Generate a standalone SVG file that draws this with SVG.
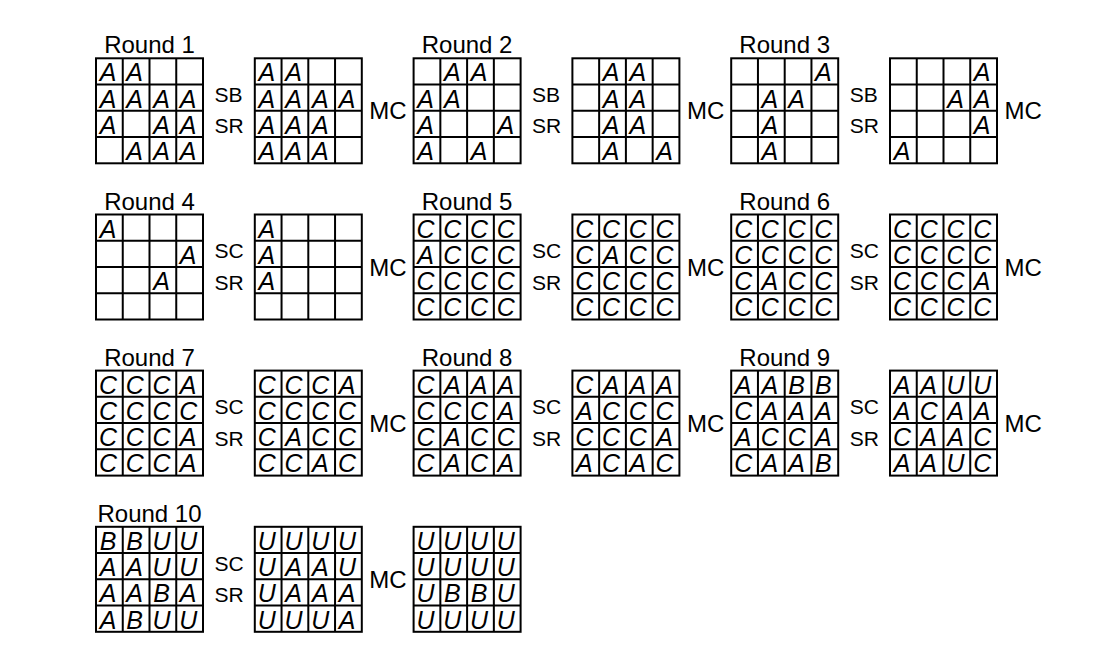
<svg xmlns="http://www.w3.org/2000/svg" xmlns:xlink="http://www.w3.org/1999/xlink" width="1106" height="669" viewBox="0 0 1106 669">
<style>
.bg{fill:#fff}
.gr rect{fill:#fff;stroke:#000;stroke-width:2}
.gr path{fill:none;stroke:#000;stroke-width:2}
text{font-family:"Liberation Sans",Arial,Helvetica,sans-serif;fill:#000}
.a{font-style:italic;font-size:25px;text-anchor:middle}
.t{font-size:24px;text-anchor:middle}
.op{font-size:21px}
.mc{font-size:24px}
</style>
<defs>
<g id="grid" class="gr"><rect x="0" y="0" width="107" height="105"/><path d="M26.75 0V105M53.5 0V105M80.25 0V105M0 26.25H107M0 52.5H107M0 78.75H107"/></g>
</defs>
<rect class="bg" x="0" y="0" width="1106" height="669"/>

<g id="titles">
<text class="t" x="149.5" y="53.3">Round 1</text>
<text class="t" x="467.1" y="53.3">Round 2</text>
<text class="t" x="784.7" y="53.3">Round 3</text>
<text class="t" x="149.5" y="209.5">Round 4</text>
<text class="t" x="467.1" y="209.5">Round 5</text>
<text class="t" x="784.7" y="209.5">Round 6</text>
<text class="t" x="149.5" y="365.6">Round 7</text>
<text class="t" x="467.1" y="365.6">Round 8</text>
<text class="t" x="784.7" y="365.6">Round 9</text>
<text class="t" x="149.5" y="521.8">Round 10</text>
</g>

<g id="operations">
<text class="op" x="214.5" y="102">SB</text><text class="op" x="214.5" y="133.3">SR</text>
<text class="op" x="532.1" y="102">SB</text><text class="op" x="532.1" y="133.3">SR</text>
<text class="op" x="849.7" y="102">SB</text><text class="op" x="849.7" y="133.3">SR</text>
<text class="mc" x="369.3" y="119.3">MC</text><text class="mc" x="686.9" y="119.3">MC</text><text class="mc" x="1004.5" y="119.3">MC</text>

<text class="op" x="214.5" y="258.2">SC</text><text class="op" x="214.5" y="289.5">SR</text>
<text class="op" x="532.1" y="258.2">SC</text><text class="op" x="532.1" y="289.5">SR</text>
<text class="op" x="849.7" y="258.2">SC</text><text class="op" x="849.7" y="289.5">SR</text>
<text class="mc" x="369.3" y="275.5">MC</text><text class="mc" x="686.9" y="275.5">MC</text><text class="mc" x="1004.5" y="275.5">MC</text>

<text class="op" x="214.5" y="414.3">SC</text><text class="op" x="214.5" y="445.6">SR</text>
<text class="op" x="532.1" y="414.3">SC</text><text class="op" x="532.1" y="445.6">SR</text>
<text class="op" x="849.7" y="414.3">SC</text><text class="op" x="849.7" y="445.6">SR</text>
<text class="mc" x="369.3" y="431.6">MC</text><text class="mc" x="686.9" y="431.6">MC</text><text class="mc" x="1004.5" y="431.6">MC</text>

<text class="op" x="214.5" y="570.5">SC</text><text class="op" x="214.5" y="601.8">SR</text>
<text class="mc" x="369.3" y="587.8">MC</text>
</g>

<!-- Row 1 -->
<g id="r1g1" transform="translate(96,58.3)"><use xlink:href="#grid" href="#grid"/>
<text class="a" x="12" y="23">A</text><text class="a" x="38.7" y="23">A</text>
<text class="a" x="12" y="49.3">A</text><text class="a" x="38.7" y="49.3">A</text><text class="a" x="65.5" y="49.3">A</text><text class="a" x="92.2" y="49.3">A</text>
<text class="a" x="12" y="75.5">A</text><text class="a" x="65.5" y="75.5">A</text><text class="a" x="92.2" y="75.5">A</text>
<text class="a" x="38.7" y="101.8">A</text><text class="a" x="65.5" y="101.8">A</text><text class="a" x="92.2" y="101.8">A</text>
</g>
<g id="r1g2" transform="translate(254.8,58.3)"><use xlink:href="#grid" href="#grid"/>
<text class="a" x="12" y="23">A</text><text class="a" x="38.7" y="23">A</text>
<text class="a" x="12" y="49.3">A</text><text class="a" x="38.7" y="49.3">A</text><text class="a" x="65.5" y="49.3">A</text><text class="a" x="92.2" y="49.3">A</text>
<text class="a" x="12" y="75.5">A</text><text class="a" x="38.7" y="75.5">A</text><text class="a" x="65.5" y="75.5">A</text>
<text class="a" x="12" y="101.8">A</text><text class="a" x="38.7" y="101.8">A</text><text class="a" x="65.5" y="101.8">A</text>
</g>
<g id="r1g3" transform="translate(413.6,58.3)"><use xlink:href="#grid" href="#grid"/>
<text class="a" x="38.7" y="23">A</text><text class="a" x="65.5" y="23">A</text>
<text class="a" x="12" y="49.3">A</text><text class="a" x="38.7" y="49.3">A</text>
<text class="a" x="12" y="75.5">A</text><text class="a" x="92.2" y="75.5">A</text>
<text class="a" x="12" y="101.8">A</text><text class="a" x="65.5" y="101.8">A</text>
</g>
<g id="r1g4" transform="translate(572.4,58.3)"><use xlink:href="#grid" href="#grid"/>
<text class="a" x="38.7" y="23">A</text><text class="a" x="65.5" y="23">A</text>
<text class="a" x="38.7" y="49.3">A</text><text class="a" x="65.5" y="49.3">A</text>
<text class="a" x="38.7" y="75.5">A</text><text class="a" x="65.5" y="75.5">A</text>
<text class="a" x="38.7" y="101.8">A</text><text class="a" x="92.2" y="101.8">A</text>
</g>
<g id="r1g5" transform="translate(731.2,58.3)"><use xlink:href="#grid" href="#grid"/>
<text class="a" x="92.2" y="23">A</text>
<text class="a" x="38.7" y="49.3">A</text><text class="a" x="65.5" y="49.3">A</text>
<text class="a" x="38.7" y="75.5">A</text>
<text class="a" x="38.7" y="101.8">A</text>
</g>
<g id="r1g6" transform="translate(890,58.3)"><use xlink:href="#grid" href="#grid"/>
<text class="a" x="92.2" y="23">A</text>
<text class="a" x="65.5" y="49.3">A</text><text class="a" x="92.2" y="49.3">A</text>
<text class="a" x="92.2" y="75.5">A</text>
<text class="a" x="12" y="101.8">A</text>
</g>

<!-- Row 2 -->
<g id="r2g1" transform="translate(96,214.5)"><use xlink:href="#grid" href="#grid"/>
<text class="a" x="12" y="23">A</text>
<text class="a" x="92.2" y="49.3">A</text>
<text class="a" x="65.5" y="75.5">A</text>
</g>
<g id="r2g2" transform="translate(254.8,214.5)"><use xlink:href="#grid" href="#grid"/>
<text class="a" x="12" y="23">A</text>
<text class="a" x="12" y="49.3">A</text>
<text class="a" x="12" y="75.5">A</text>
</g>
<g id="r2g3" transform="translate(413.6,214.5)"><use xlink:href="#grid" href="#grid"/>
<text class="a" x="12" y="23">C</text><text class="a" x="38.7" y="23">C</text><text class="a" x="65.5" y="23">C</text><text class="a" x="92.2" y="23">C</text>
<text class="a" x="12" y="49.3">A</text><text class="a" x="38.7" y="49.3">C</text><text class="a" x="65.5" y="49.3">C</text><text class="a" x="92.2" y="49.3">C</text>
<text class="a" x="12" y="75.5">C</text><text class="a" x="38.7" y="75.5">C</text><text class="a" x="65.5" y="75.5">C</text><text class="a" x="92.2" y="75.5">C</text>
<text class="a" x="12" y="101.8">C</text><text class="a" x="38.7" y="101.8">C</text><text class="a" x="65.5" y="101.8">C</text><text class="a" x="92.2" y="101.8">C</text>
</g>
<g id="r2g4" transform="translate(572.4,214.5)"><use xlink:href="#grid" href="#grid"/>
<text class="a" x="12" y="23">C</text><text class="a" x="38.7" y="23">C</text><text class="a" x="65.5" y="23">C</text><text class="a" x="92.2" y="23">C</text>
<text class="a" x="12" y="49.3">C</text><text class="a" x="38.7" y="49.3">A</text><text class="a" x="65.5" y="49.3">C</text><text class="a" x="92.2" y="49.3">C</text>
<text class="a" x="12" y="75.5">C</text><text class="a" x="38.7" y="75.5">C</text><text class="a" x="65.5" y="75.5">C</text><text class="a" x="92.2" y="75.5">C</text>
<text class="a" x="12" y="101.8">C</text><text class="a" x="38.7" y="101.8">C</text><text class="a" x="65.5" y="101.8">C</text><text class="a" x="92.2" y="101.8">C</text>
</g>
<g id="r2g5" transform="translate(731.2,214.5)"><use xlink:href="#grid" href="#grid"/>
<text class="a" x="12" y="23">C</text><text class="a" x="38.7" y="23">C</text><text class="a" x="65.5" y="23">C</text><text class="a" x="92.2" y="23">C</text>
<text class="a" x="12" y="49.3">C</text><text class="a" x="38.7" y="49.3">C</text><text class="a" x="65.5" y="49.3">C</text><text class="a" x="92.2" y="49.3">C</text>
<text class="a" x="12" y="75.5">C</text><text class="a" x="38.7" y="75.5">A</text><text class="a" x="65.5" y="75.5">C</text><text class="a" x="92.2" y="75.5">C</text>
<text class="a" x="12" y="101.8">C</text><text class="a" x="38.7" y="101.8">C</text><text class="a" x="65.5" y="101.8">C</text><text class="a" x="92.2" y="101.8">C</text>
</g>
<g id="r2g6" transform="translate(890,214.5)"><use xlink:href="#grid" href="#grid"/>
<text class="a" x="12" y="23">C</text><text class="a" x="38.7" y="23">C</text><text class="a" x="65.5" y="23">C</text><text class="a" x="92.2" y="23">C</text>
<text class="a" x="12" y="49.3">C</text><text class="a" x="38.7" y="49.3">C</text><text class="a" x="65.5" y="49.3">C</text><text class="a" x="92.2" y="49.3">C</text>
<text class="a" x="12" y="75.5">C</text><text class="a" x="38.7" y="75.5">C</text><text class="a" x="65.5" y="75.5">C</text><text class="a" x="92.2" y="75.5">A</text>
<text class="a" x="12" y="101.8">C</text><text class="a" x="38.7" y="101.8">C</text><text class="a" x="65.5" y="101.8">C</text><text class="a" x="92.2" y="101.8">C</text>
</g>

<!-- Row 3 -->
<g id="r3g1" transform="translate(96,370.6)"><use xlink:href="#grid" href="#grid"/>
<text class="a" x="12" y="23">C</text><text class="a" x="38.7" y="23">C</text><text class="a" x="65.5" y="23">C</text><text class="a" x="92.2" y="23">A</text>
<text class="a" x="12" y="49.3">C</text><text class="a" x="38.7" y="49.3">C</text><text class="a" x="65.5" y="49.3">C</text><text class="a" x="92.2" y="49.3">C</text>
<text class="a" x="12" y="75.5">C</text><text class="a" x="38.7" y="75.5">C</text><text class="a" x="65.5" y="75.5">C</text><text class="a" x="92.2" y="75.5">A</text>
<text class="a" x="12" y="101.8">C</text><text class="a" x="38.7" y="101.8">C</text><text class="a" x="65.5" y="101.8">C</text><text class="a" x="92.2" y="101.8">A</text>
</g>
<g id="r3g2" transform="translate(254.8,370.6)"><use xlink:href="#grid" href="#grid"/>
<text class="a" x="12" y="23">C</text><text class="a" x="38.7" y="23">C</text><text class="a" x="65.5" y="23">C</text><text class="a" x="92.2" y="23">A</text>
<text class="a" x="12" y="49.3">C</text><text class="a" x="38.7" y="49.3">C</text><text class="a" x="65.5" y="49.3">C</text><text class="a" x="92.2" y="49.3">C</text>
<text class="a" x="12" y="75.5">C</text><text class="a" x="38.7" y="75.5">A</text><text class="a" x="65.5" y="75.5">C</text><text class="a" x="92.2" y="75.5">C</text>
<text class="a" x="12" y="101.8">C</text><text class="a" x="38.7" y="101.8">C</text><text class="a" x="65.5" y="101.8">A</text><text class="a" x="92.2" y="101.8">C</text>
</g>
<g id="r3g3" transform="translate(413.6,370.6)"><use xlink:href="#grid" href="#grid"/>
<text class="a" x="12" y="23">C</text><text class="a" x="38.7" y="23">A</text><text class="a" x="65.5" y="23">A</text><text class="a" x="92.2" y="23">A</text>
<text class="a" x="12" y="49.3">C</text><text class="a" x="38.7" y="49.3">C</text><text class="a" x="65.5" y="49.3">C</text><text class="a" x="92.2" y="49.3">A</text>
<text class="a" x="12" y="75.5">C</text><text class="a" x="38.7" y="75.5">A</text><text class="a" x="65.5" y="75.5">C</text><text class="a" x="92.2" y="75.5">C</text>
<text class="a" x="12" y="101.8">C</text><text class="a" x="38.7" y="101.8">A</text><text class="a" x="65.5" y="101.8">C</text><text class="a" x="92.2" y="101.8">A</text>
</g>
<g id="r3g4" transform="translate(572.4,370.6)"><use xlink:href="#grid" href="#grid"/>
<text class="a" x="12" y="23">C</text><text class="a" x="38.7" y="23">A</text><text class="a" x="65.5" y="23">A</text><text class="a" x="92.2" y="23">A</text>
<text class="a" x="12" y="49.3">A</text><text class="a" x="38.7" y="49.3">C</text><text class="a" x="65.5" y="49.3">C</text><text class="a" x="92.2" y="49.3">C</text>
<text class="a" x="12" y="75.5">C</text><text class="a" x="38.7" y="75.5">C</text><text class="a" x="65.5" y="75.5">C</text><text class="a" x="92.2" y="75.5">A</text>
<text class="a" x="12" y="101.8">A</text><text class="a" x="38.7" y="101.8">C</text><text class="a" x="65.5" y="101.8">A</text><text class="a" x="92.2" y="101.8">C</text>
</g>
<g id="r3g5" transform="translate(731.2,370.6)"><use xlink:href="#grid" href="#grid"/>
<text class="a" x="12" y="23">A</text><text class="a" x="38.7" y="23">A</text><text class="a" x="65.5" y="23">B</text><text class="a" x="92.2" y="23">B</text>
<text class="a" x="12" y="49.3">C</text><text class="a" x="38.7" y="49.3">A</text><text class="a" x="65.5" y="49.3">A</text><text class="a" x="92.2" y="49.3">A</text>
<text class="a" x="12" y="75.5">A</text><text class="a" x="38.7" y="75.5">C</text><text class="a" x="65.5" y="75.5">C</text><text class="a" x="92.2" y="75.5">A</text>
<text class="a" x="12" y="101.8">C</text><text class="a" x="38.7" y="101.8">A</text><text class="a" x="65.5" y="101.8">A</text><text class="a" x="92.2" y="101.8">B</text>
</g>
<g id="r3g6" transform="translate(890,370.6)"><use xlink:href="#grid" href="#grid"/>
<text class="a" x="12" y="23">A</text><text class="a" x="38.7" y="23">A</text><text class="a" x="65.5" y="23">U</text><text class="a" x="92.2" y="23">U</text>
<text class="a" x="12" y="49.3">A</text><text class="a" x="38.7" y="49.3">C</text><text class="a" x="65.5" y="49.3">A</text><text class="a" x="92.2" y="49.3">A</text>
<text class="a" x="12" y="75.5">C</text><text class="a" x="38.7" y="75.5">A</text><text class="a" x="65.5" y="75.5">A</text><text class="a" x="92.2" y="75.5">C</text>
<text class="a" x="12" y="101.8">A</text><text class="a" x="38.7" y="101.8">A</text><text class="a" x="65.5" y="101.8">U</text><text class="a" x="92.2" y="101.8">C</text>
</g>

<!-- Row 4 -->
<g id="r4g1" transform="translate(96,526.8)"><use xlink:href="#grid" href="#grid"/>
<text class="a" x="12" y="23">B</text><text class="a" x="38.7" y="23">B</text><text class="a" x="65.5" y="23">U</text><text class="a" x="92.2" y="23">U</text>
<text class="a" x="12" y="49.3">A</text><text class="a" x="38.7" y="49.3">A</text><text class="a" x="65.5" y="49.3">U</text><text class="a" x="92.2" y="49.3">U</text>
<text class="a" x="12" y="75.5">A</text><text class="a" x="38.7" y="75.5">A</text><text class="a" x="65.5" y="75.5">B</text><text class="a" x="92.2" y="75.5">A</text>
<text class="a" x="12" y="101.8">A</text><text class="a" x="38.7" y="101.8">B</text><text class="a" x="65.5" y="101.8">U</text><text class="a" x="92.2" y="101.8">U</text>
</g>
<g id="r4g2" transform="translate(254.8,526.8)"><use xlink:href="#grid" href="#grid"/>
<text class="a" x="12" y="23">U</text><text class="a" x="38.7" y="23">U</text><text class="a" x="65.5" y="23">U</text><text class="a" x="92.2" y="23">U</text>
<text class="a" x="12" y="49.3">U</text><text class="a" x="38.7" y="49.3">A</text><text class="a" x="65.5" y="49.3">A</text><text class="a" x="92.2" y="49.3">U</text>
<text class="a" x="12" y="75.5">U</text><text class="a" x="38.7" y="75.5">A</text><text class="a" x="65.5" y="75.5">A</text><text class="a" x="92.2" y="75.5">A</text>
<text class="a" x="12" y="101.8">U</text><text class="a" x="38.7" y="101.8">U</text><text class="a" x="65.5" y="101.8">U</text><text class="a" x="92.2" y="101.8">A</text>
</g>
<g id="r4g3" transform="translate(413.6,526.8)"><use xlink:href="#grid" href="#grid"/>
<text class="a" x="12" y="23">U</text><text class="a" x="38.7" y="23">U</text><text class="a" x="65.5" y="23">U</text><text class="a" x="92.2" y="23">U</text>
<text class="a" x="12" y="49.3">U</text><text class="a" x="38.7" y="49.3">U</text><text class="a" x="65.5" y="49.3">U</text><text class="a" x="92.2" y="49.3">U</text>
<text class="a" x="12" y="75.5">U</text><text class="a" x="38.7" y="75.5">B</text><text class="a" x="65.5" y="75.5">B</text><text class="a" x="92.2" y="75.5">U</text>
<text class="a" x="12" y="101.8">U</text><text class="a" x="38.7" y="101.8">U</text><text class="a" x="65.5" y="101.8">U</text><text class="a" x="92.2" y="101.8">U</text>
</g>
</svg>
